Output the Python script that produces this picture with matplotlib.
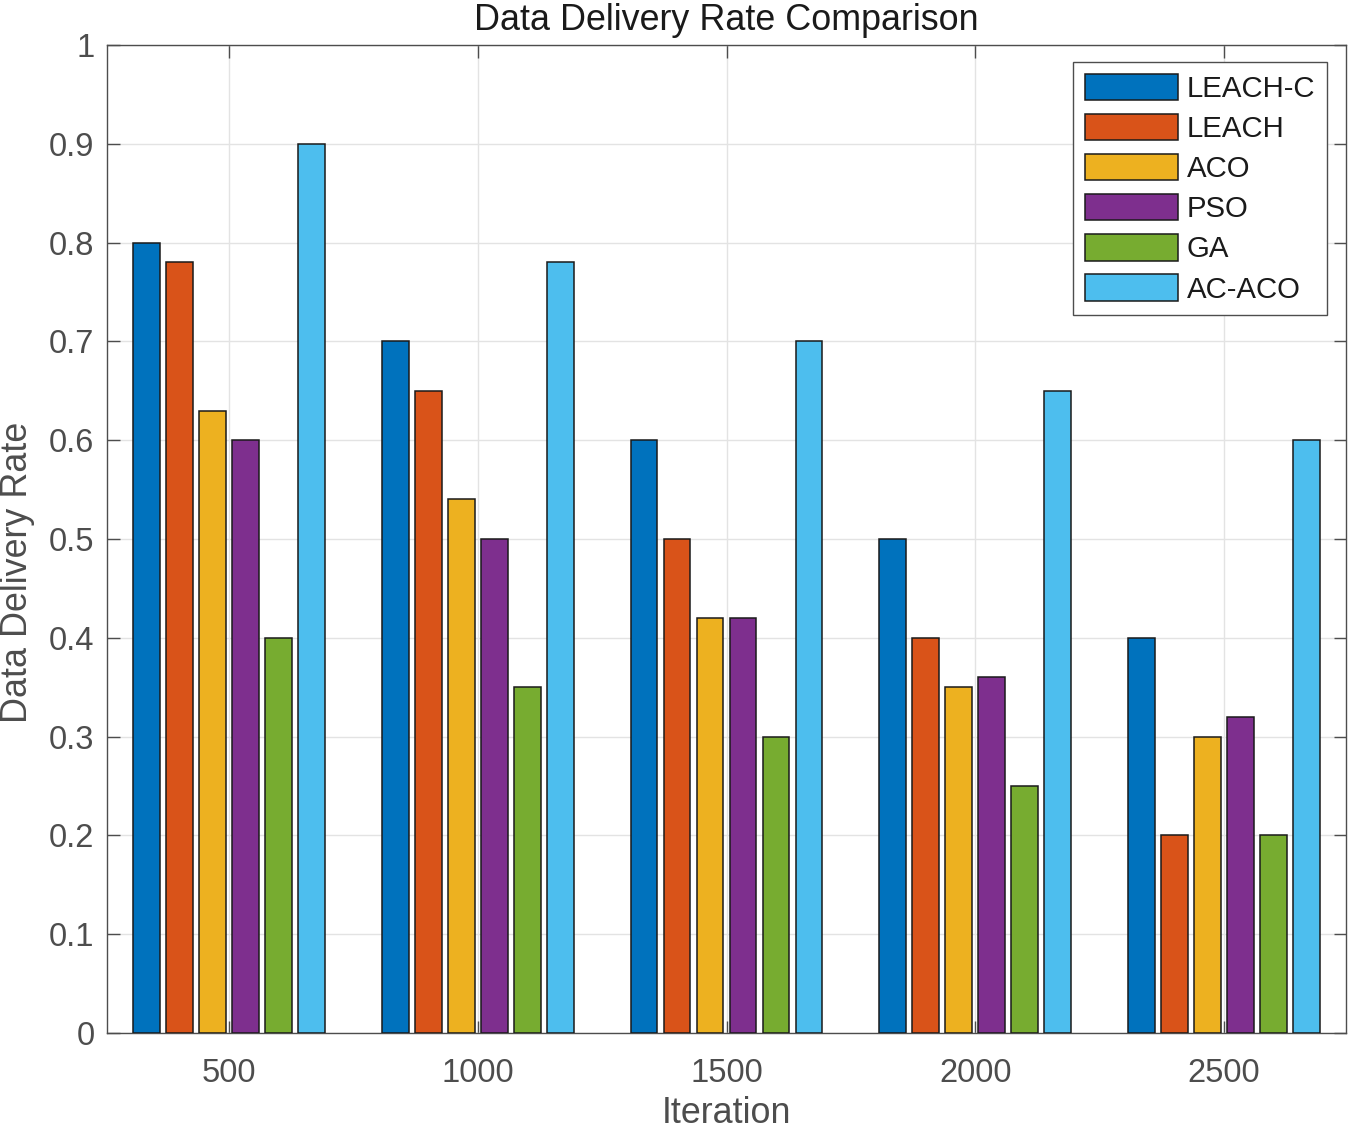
import matplotlib
matplotlib.use("Agg")
import matplotlib.pyplot as plt
import numpy as np

iterations = [500, 1000, 1500, 2000, 2500]
series_names = ["LEACH-C", "LEACH", "ACO", "PSO", "GA", "AC-ACO"]
leach_c = [0.80, 0.70, 0.60, 0.50, 0.40]
leach = [0.78, 0.65, 0.50, 0.40, 0.20]
aco = [0.63, 0.54, 0.42, 0.35, 0.30]
pso = [0.60, 0.50, 0.42, 0.36, 0.32]
ga = [0.40, 0.35, 0.30, 0.25, 0.20]
ac_aco = [0.90, 0.78, 0.70, 0.65, 0.60]
series = [leach_c, leach, aco, pso, ga, ac_aco]
colors = ["#0072BD", "#D95319", "#EDB120", "#7E2F8E", "#77AC30", "#4DBEEE"]
yticks = [0, 0.1, 0.2, 0.3, 0.4, 0.5, 0.6, 0.7, 0.8, 0.9, 1]
ytick_labels = ["0", "0.1", "0.2", "0.3", "0.4", "0.5", "0.6", "0.7", "0.8", "0.9", "1"]

plt.rcParams['font.family'] = ['Liberation Sans', 'DejaVu Sans']

fig = plt.figure(figsize=(13.51, 11.32), dpi=100)
ax = fig.add_axes([107/1351, 1 - 1033/1132, (1346-107)/1351, (1033-45)/1132])

step = 66.3
width = 54
x = np.array(iterations, dtype=float)
for i, (vals, c, name) in enumerate(zip(series, colors, series_names)):
    offs = (i - 2.5) * step
    ax.bar(x + offs, vals, width=width, color=c, edgecolor="#1a1a1a",
           linewidth=1.1, label=name, zorder=3)

ax.set_xlim(255, 2745)
ax.set_ylim(0, 1)
ax.set_xticks(iterations)
ax.set_xticklabels([str(v) for v in iterations])
ax.set_yticks(yticks)
ax.set_yticklabels(ytick_labels)

ax.grid(True, color="#e3e3e3", linewidth=1.0, zorder=0)
ax.set_axisbelow(True)
for s in ax.spines.values():
    s.set_color("#4d4d4d")
    s.set_linewidth(1.0)
ax.tick_params(axis="both", direction="in", length=9, width=1.0, color="#4d4d4d",
               labelcolor="#4d4d4d", labelsize=23.5, top=True, right=True)
ax.tick_params(axis="x", pad=18)
ax.tick_params(axis="y", pad=9)

ax.set_title("Data Delivery Rate Comparison", fontsize=25.8, color="#1a1a1a", pad=11)
ax.set_xlabel("Iteration", fontsize=25.8, color="#4d4d4d", labelpad=5)
ax.set_ylabel("Data Delivery Rate", fontsize=25.8, color="#4d4d4d")
ax.yaxis.set_label_coords(-0.0585, 0.4666)

leg = ax.legend(loc="upper right", bbox_to_anchor=(0.9847, 0.983), fontsize=21.2,
                handlelength=3.15, handleheight=1.0, handletextpad=0.3,
                labelspacing=0.37, borderpad=0.4, borderaxespad=0.0,
                fancybox=False, framealpha=1, edgecolor="#4d4d4d")
leg.get_frame().set_linewidth(1.0)
for t in leg.get_texts():
    t.set_color("#1a1a1a")

fig.savefig("out.png", dpi=100, facecolor="white")
